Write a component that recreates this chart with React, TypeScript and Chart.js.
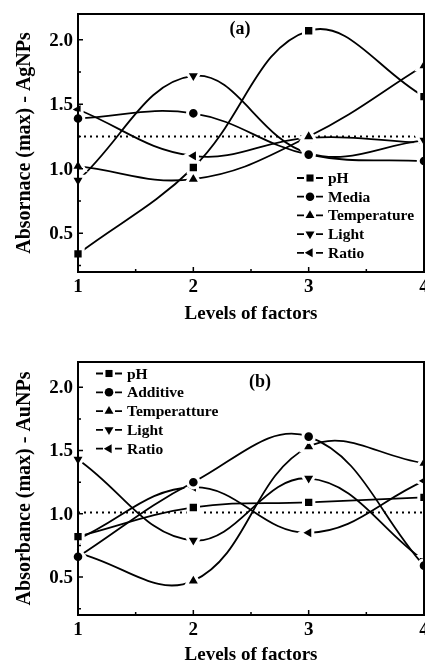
import React, { useEffect, useRef } from "react";
import { Chart, registerables } from "chart.js";

Chart.register(...registerables);

// ---------- data ----------
const levels = [1, 2, 3, 4];
const xTickValues = [1, 2, 3, 4];
const xMinorTicks = [1.5, 2.5, 3.5];
const yTickValues = [0.5, 1.0, 1.5, 2.0];
const yMinorTicks = [0.25, 0.75, 1.25, 1.75];

// (a) AgNPs
const agLabels = ["pH", "Media", "Temperature", "Light", "Ratio"];
const agPH = [0.34, 1.01, 2.07, 1.56];
const agMedia = [1.39, 1.43, 1.11, 1.06];
const agTemperature = [1.02, 0.92, 1.25, 1.8];
const agLight = [0.91, 1.72, 1.12, 1.22];
const agRatio = [1.46, 1.1, 1.24, 1.2];
const agMean = 1.25;

// (b) AuNPs
const auLabels = ["pH", "Additive", "Temperatture", "Light", "Ratio"];
const auPH = [0.82, 1.05, 1.09, 1.13];
const auAdditive = [0.66, 1.25, 1.61, 0.59];
const auTemperature = [0.69, 0.47, 1.53, 1.4];
const auLight = [1.43, 0.79, 1.28, 0.63];
const auRatio = [0.8, 1.21, 0.85, 1.26];
const auMean = 1.01;

// ---------- styles ----------
const FONT = "'Liberation Serif', 'Times New Roman', serif";
const CANVAS_W = 445;
const GAP_W = 3; // white halo around markers (gap between line and symbol)
const markers = [
  { style: "rect", radius: 7.3, rotation: 0, legendR: 5 },
  { style: "circle", radius: 5.8, rotation: 0, legendR: 4.3 },
  { style: "triangle", radius: 8.2, rotation: 0, legendR: 5.2 },
  { style: "triangle", radius: 8.2, rotation: 180, legendR: 5.2 },
  { style: "triangle", radius: 8.2, rotation: 270, legendR: 5.2 },
];

type PanelOpts = {
  height: number;
  padTop: number;
  xAxisHeight: number;
  yTitle: string;
  letter: string;
  letterDx: number;
  letterDy: number;
  labels: string[];
  series: number[][];
  mean: number;
  legendX: number;
  legendY: number;
  legendStep: number;
};

function drawMarker(ctx: CanvasRenderingContext2D, m: any, x: number, y: number) {
  ctx.save();
  ctx.fillStyle = "#000";
  ctx.translate(x, y);
  ctx.rotate((m.rotation * Math.PI) / 180);
  ctx.beginPath();
  const r = m.legendR;
  if (m.style === "rect") {
    const s = r * Math.SQRT1_2;
    ctx.rect(-s, -s, 2 * s, 2 * s);
  } else if (m.style === "circle") {
    ctx.arc(0, 0, r, 0, Math.PI * 2);
  } else {
    ctx.moveTo(0, -r);
    ctx.lineTo(r * Math.sin(Math.PI / 3), r * 0.5);
    ctx.lineTo(-r * Math.sin(Math.PI / 3), r * 0.5);
    ctx.closePath();
  }
  ctx.fill();
  ctx.restore();
}

function makeConfig(o: PanelOpts): any {
  const datasets: any[] = o.series.map((arr, i) => ({
    label: o.labels[i],
    data: levels.map((x, k) => ({ x, y: arr[k] })),
    borderColor: "#000",
    backgroundColor: "#000",
    borderWidth: 1.8,
    tension: 0.4,
    pointStyle: markers[i].style,
    pointRadius: markers[i].radius,
    pointRotation: markers[i].rotation,
    pointBorderWidth: GAP_W,
    pointBorderColor: "#fff",
    pointBackgroundColor: "#000",
    clip: false,
  }));
  datasets.push({
    label: "mean",
    data: [
      { x: levels[0], y: o.mean },
      { x: levels[levels.length - 1], y: o.mean },
    ],
    borderColor: "#000",
    borderWidth: 2,
    borderDash: [2, 4],
    pointRadius: 0,
    tension: 0,
  });

  const framePlugin = {
    id: "frame",
    afterDraw(chart: any) {
      const { ctx, chartArea: a, scales } = chart;
      ctx.save();
      ctx.strokeStyle = "#000";
      ctx.lineWidth = 2;
      ctx.strokeRect(a.left, a.top, a.right - a.left, a.bottom - a.top);
      ctx.lineWidth = 1.5;
      ctx.beginPath();
      xTickValues.forEach((v) => {
        const px = scales.x.getPixelForValue(v);
        ctx.moveTo(px, a.bottom);
        ctx.lineTo(px, a.bottom - 5);
      });
      xMinorTicks.forEach((v) => {
        const px = scales.x.getPixelForValue(v);
        ctx.moveTo(px, a.bottom);
        ctx.lineTo(px, a.bottom - 3);
      });
      yTickValues.forEach((v) => {
        const py = scales.y.getPixelForValue(v);
        ctx.moveTo(a.left, py);
        ctx.lineTo(a.left + 5, py);
      });
      yMinorTicks.forEach((v) => {
        const py = scales.y.getPixelForValue(v);
        ctx.moveTo(a.left, py);
        ctx.lineTo(a.left + 3, py);
      });
      ctx.stroke();

      // tick labels (drawn on top so marker halos never cut them)
      ctx.fillStyle = "#000";
      ctx.font = `bold 19px ${FONT}`;
      ctx.textBaseline = "middle";
      ctx.textAlign = "center";
      xTickValues.forEach((v) => {
        ctx.fillText(String(v), scales.x.getPixelForValue(v), a.bottom + 15);
      });
      ctx.textAlign = "right";
      yTickValues.forEach((v) => {
        ctx.fillText(v.toFixed(1), a.left - 5, scales.y.getPixelForValue(v) + 1);
      });

      // panel letter
      ctx.font = `bold 18px ${FONT}`;
      ctx.textAlign = "center";
      ctx.fillText(o.letter, a.left + o.letterDx, a.top + o.letterDy);

      // legend
      ctx.font = `bold 15.5px ${FONT}`;
      ctx.textAlign = "left";
      o.labels.forEach((lab, i) => {
        const y = o.legendY + i * o.legendStep;
        const x0 = o.legendX;
        const xm = x0 + 13;
        ctx.lineWidth = 1.8;
        ctx.beginPath();
        ctx.moveTo(x0, y);
        ctx.lineTo(xm - 6, y);
        ctx.moveTo(xm + 6, y);
        ctx.lineTo(x0 + 26, y);
        ctx.stroke();
        drawMarker(ctx, markers[i], xm, y);
        ctx.fillText(lab, x0 + 31, y + 1);
      });
      ctx.restore();
    },
  };

  return {
    type: "line",
    data: { datasets },
    options: {
      responsive: false,
      animation: false,
      devicePixelRatio: 1,
      layout: { padding: { left: 0, right: CANVAS_W - 424, top: o.padTop, bottom: 0 } },
      plugins: { legend: { display: false }, tooltip: { enabled: false } },
      scales: {
        x: {
          type: "linear",
          min: 1,
          max: 4,
          afterBuildTicks: (s: any) => {
            s.ticks = xTickValues.map((v) => ({ value: v }));
          },
          afterFit: (s: any) => {
            s.height = o.xAxisHeight;
          },
          grid: { display: false, drawTicks: false },
          border: { display: false },
          ticks: { display: false },
          title: {
            display: true,
            text: "Levels of factors",
            color: "#000",
            font: { family: FONT, size: 19, weight: "bold" },
            padding: { top: 0, bottom: 5 },
          },
        },
        y: {
          min: 0.2,
          max: 2.2,
          afterBuildTicks: (s: any) => {
            s.ticks = yTickValues.map((v) => ({ value: v }));
          },
          afterFit: (s: any) => {
            s.width = 78;
          },
          grid: { display: false, drawTicks: false },
          border: { display: false },
          ticks: { display: false },
          title: {
            display: true,
            text: o.yTitle,
            color: "#000",
            font: { family: FONT, size: 20, weight: "bold" },
            padding: { top: 13, bottom: 0 },
          },
        },
      },
    },
    plugins: [framePlugin],
  };
}

function Panel({ opts, top }: { opts: PanelOpts; top: number }) {
  const ref = useRef<HTMLCanvasElement | null>(null);
  useEffect(() => {
    if (!ref.current) return;
    const chart = new Chart(ref.current, makeConfig(opts));
    return () => chart.destroy();
  }, []);
  return (
    <canvas
      ref={ref}
      width={CANVAS_W}
      height={opts.height}
      style={{ position: "absolute", left: 0, top, width: CANVAS_W, height: opts.height, display: "block" }}
    />
  );
}

const panelA: PanelOpts = {
  height: 330,
  padTop: 14,
  xAxisHeight: 58,
  yTitle: "Absornace (max) - AgNPs",
  letter: "(a)",
  letterDx: 162,
  letterDy: 15,
  labels: agLabels,
  series: [agPH, agMedia, agTemperature, agLight, agRatio],
  mean: agMean,
  legendX: 297,
  legendY: 178,
  legendStep: 18.7,
};

const panelB: PanelOpts = {
  height: 341,
  padTop: 32,
  xAxisHeight: 56,
  yTitle: "Absorbance (max) - AuNPs",
  letter: "(b)",
  letterDx: 182,
  letterDy: 20,
  labels: auLabels,
  series: [auPH, auAdditive, auTemperature, auLight, auRatio],
  mean: auMean,
  legendX: 96,
  legendY: 43.5,
  legendStep: 18.8,
};

export default function App() {
  return (
    <div
      style={{
        position: "fixed",
        left: 0,
        top: 0,
        width: 425,
        height: 671,
        overflow: "hidden",
        background: "#fff",
      }}
    >
      <Panel opts={panelA} top={0} />
      <Panel opts={panelB} top={330} />
    </div>
  );
}
